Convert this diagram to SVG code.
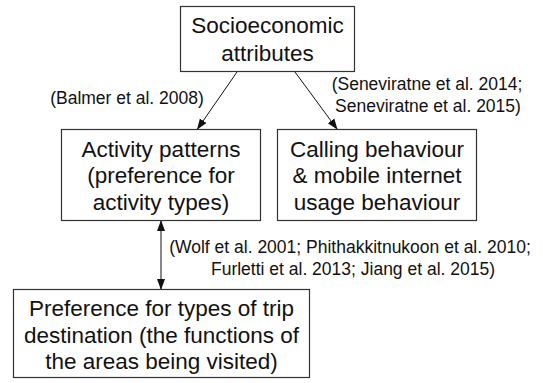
<svg xmlns="http://www.w3.org/2000/svg" width="543" height="383" viewBox="0 0 543 383">
<defs>
<style>
.box{fill:#fff;stroke:#333;stroke-width:1.2}
.t{font-family:"Liberation Sans",Arial,Helvetica,sans-serif;font-size:22.5px;fill:#111;text-anchor:middle}
.l{font-family:"Liberation Sans",Arial,Helvetica,sans-serif;font-size:17.5px;fill:#111;text-anchor:middle}
.c{stroke:#111;stroke-width:1;fill:none}
</style>
<marker id="ah" markerWidth="11" markerHeight="10" refX="10" refY="5" orient="auto" markerUnits="userSpaceOnUse">
<path d="M0,1 L11,5 L0,9 z" fill="#111"/>
</marker>
<marker id="as" markerWidth="11" markerHeight="10" refX="10" refY="5" orient="auto-start-reverse" markerUnits="userSpaceOnUse">
<path d="M0,1 L11,5 L0,9 z" fill="#111"/>
</marker>
</defs>
<rect width="543" height="383" fill="#fff"/>
<g id="connectors">
<line class="c" x1="237" y1="72" x2="197.5" y2="129" marker-end="url(#ah)"/>
<line class="c" x1="295" y1="72" x2="337" y2="129" marker-end="url(#ah)"/>
<line class="c" x1="161" y1="221" x2="161" y2="289" marker-start="url(#as)" marker-end="url(#as)"/>
<text class="l" x="127" y="104">(Balmer et al. 2008)</text>
<text class="l" x="427" y="90">(Seneviratne et al. 2014;</text>
<text class="l" x="428" y="112">Seneviratne et al. 2015)</text>
<text class="l" x="350" y="253">(Wolf et al. 2001; Phithakkitnukoon et al. 2010;</text>
<text class="l" x="353" y="275">Furletti et al. 2013; Jiang et al. 2015)</text>
</g>
<g id="socio">
<rect class="box" x="180.5" y="6.5" width="174" height="65"/>
<text class="t" x="267.5" y="33">Socioeconomic</text>
<text class="t" x="267.5" y="61">attributes</text>
</g>
<g id="activity">
<rect class="box" x="61.5" y="129.5" width="199" height="91"/>
<text class="t" x="161" y="156.5">Activity patterns</text>
<text class="t" x="161" y="183">(preference for</text>
<text class="t" x="161" y="209.5">activity types)</text>
</g>
<g id="calling">
<rect class="box" x="277.5" y="129.5" width="199" height="91"/>
<text class="t" x="377" y="156.5">Calling behaviour</text>
<text class="t" x="377" y="183">&amp; mobile internet</text>
<text class="t" x="377" y="209.5">usage behaviour</text>
</g>
<g id="destination">
<rect class="box" x="13.5" y="289.5" width="296" height="88"/>
<text class="t" x="161.5" y="316">Preference for types of trip</text>
<text class="t" x="161.5" y="342.5">destination (the functions of</text>
<text class="t" x="161.5" y="369">the areas being visited)</text>
</g>
</svg>
